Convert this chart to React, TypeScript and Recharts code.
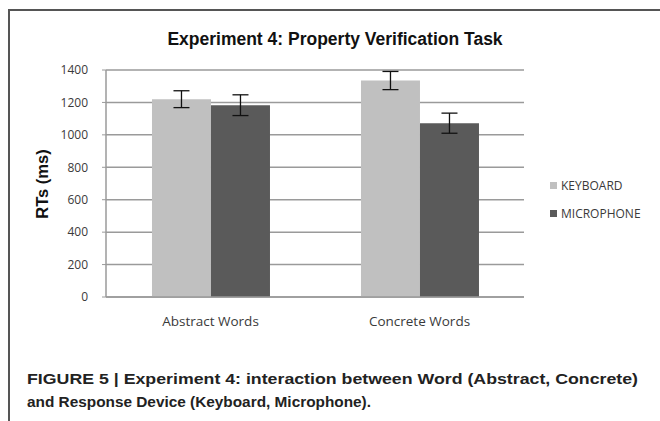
import { Bar, BarChart, CartesianGrid, ErrorBar, XAxis, YAxis } from "recharts";

const categories = ["Abstract Words", "Concrete Words"];
const keyboard = [1220, 1335];
const keyboardErr = [52, 56];
const microphone = [1183, 1072];
const microphoneErr = [64, 62];
const yTicks = [0, 200, 400, 600, 800, 1000, 1200, 1400];

const data = categories.map((name, i) => ({
  name,
  KEYBOARD: keyboard[i],
  kbErr: keyboardErr[i],
  MICROPHONE: microphone[i],
  micErr: microphoneErr[i],
}));

const series = [
  { key: "KEYBOARD", err: "kbErr", color: "#c0c0c0" },
  { key: "MICROPHONE", err: "micErr", color: "#5a5a5a" },
];

const tickFont = { fontFamily: "'Open Sans', sans-serif", fontSize: 12, fill: "#3a3a3a" };
const catFont = { ...tickFont, fontSize: 13.5 };

function LegendBox() {
  return (
    <div
      style={{
        position: "absolute",
        left: 550,
        top: 171,
        fontFamily: "'Open Sans', sans-serif",
        fontSize: 12,
        color: "#3a3a3a",
      }}
    >
      {series.map((s) => (
        <div key={s.key} style={{ display: "flex", alignItems: "center", height: 28 }}>
          <span style={{ width: 7, height: 7, background: s.color, marginRight: 4 }} />
          {s.key}
        </div>
      ))}
    </div>
  );
}

export default function App() {
  return (
    <div style={{ position: "absolute", left: 0, top: 0, width: 660, height: 421, background: "#fff", overflow: "hidden" }}>
      {/* frame around the figure */}
      <div style={{ position: "absolute", left: 8, top: 9, width: 700, height: 460, border: "2px solid #555" }} />
      <div
        style={{
          position: "absolute",
          left: 0,
          width: 670,
          top: 29,
          textAlign: "center",
          fontFamily: "'Liberation Sans', Arial, sans-serif",
          fontWeight: "bold",
          fontSize: 17.5,
          color: "#111",
        }}
      >
        Experiment 4: Property Verification Task
      </div>
      <div
        style={{
          position: "absolute",
          left: 42,
          top: 184,
          transform: "translate(-50%, -50%) rotate(-90deg)",
          whiteSpace: "nowrap",
          fontFamily: "'Liberation Sans', Arial, sans-serif",
          fontWeight: "bold",
          fontSize: 16.5,
          color: "#111",
        }}
      >
        RTs (ms)
      </div>
      <div style={{ position: "absolute", left: 0, top: 0 }}>
        <BarChart
          width={660}
          height={421}
          data={data}
          margin={{ top: 70, right: 136, left: 66, bottom: 94 }}
          barCategoryGap="22%"
          barGap={0}
        >
          <CartesianGrid horizontal vertical={false} stroke="#9a9a9a" strokeWidth={1.5} />
          <XAxis
            dataKey="name"
            height={30}
            tick={catFont}
            tickLine={false}
            axisLine={{ stroke: "#9a9a9a", strokeWidth: 1.5 }}
            tickMargin={13}
          />
          <YAxis
            width={40}
            domain={[0, 1400]}
            ticks={yTicks}
            tick={tickFont}
            tickLine={{ stroke: "#9a9a9a" }}
            tickSize={4}
            tickMargin={14}
            axisLine={{ stroke: "#9a9a9a", strokeWidth: 1.5 }}
          />
          {series.map((s) => (
            <Bar key={s.key} dataKey={s.key} fill={s.color} isAnimationActive={false}>
              <ErrorBar dataKey={s.err} width={8} stroke="#111" strokeWidth={1.3} />
            </Bar>
          ))}
        </BarChart>
      </div>
      <LegendBox />
      <svg style={{ position: "absolute", left: 0, top: 0 }} width={660} height={421}>
        <g fontFamily="'Liberation Sans', Arial, sans-serif" fontWeight="bold" fontSize={15.5} fill="#222">
          <text x={27} y={384} textLength={611} lengthAdjust="spacingAndGlyphs">
            FIGURE 5 | Experiment 4: interaction between Word (Abstract, Concrete)
          </text>
          <text x={27} y={407} textLength={344} lengthAdjust="spacingAndGlyphs">
            and Response Device (Keyboard, Microphone).
          </text>
        </g>
      </svg>
    </div>
  );
}
